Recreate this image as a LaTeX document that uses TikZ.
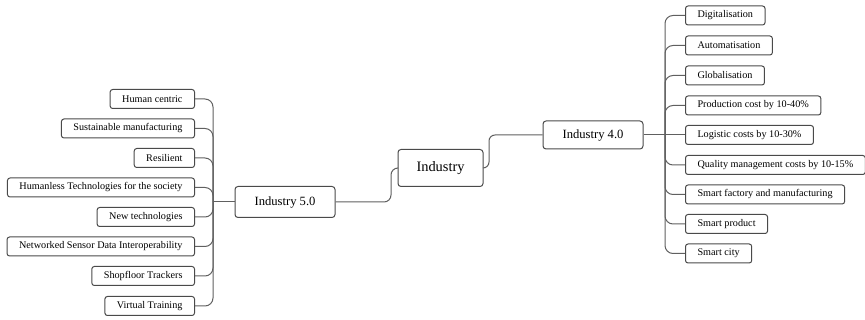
\documentclass[tikz,border=0pt]{standalone}
\usepackage{fontspec}
\setmainfont{Liberation Serif}
\definecolor{boxline}{HTML}{4A4A4A}
\definecolor{wire}{HTML}{606060}
\begin{document}
\begin{tikzpicture}[x=1pt,y=-1pt,
  leaf/.style={draw=boxline, line width=1pt, rounded corners=2.5pt,
    inner xsep=12pt, inner ysep=0pt, minimum height=19pt,
    font=\fontsize{10.2}{11}\selectfont},
  hub/.style={draw=boxline, line width=1pt, rounded corners=3pt,
    inner sep=0pt, font=\fontsize{12.6}{13}\selectfont},
  link/.style={draw=wire, line width=1pt, rounded corners=8pt}]
\useasboundingbox (0,0) rectangle (865,320);

% central hubs
\node[hub, minimum width=85pt, minimum height=37pt, font=\fontsize{14.4}{15}\selectfont] (ind) at (440.5,168) {Industry};
\node[hub, minimum width=100pt, minimum height=31pt] (i5) at (285,202) {Industry 5.0};
\node[hub, minimum width=100pt, minimum height=28pt] (i4) at (593,135) {Industry 4.0};

% Industry 5.0 leaves
\node[leaf, anchor=east] (l1) at (195,99)  {Human centric};
\node[leaf, anchor=east] (l2) at (195,128.5) {Sustainable manufacturing};
\node[leaf, anchor=east] (l3) at (195,158) {Resilient};
\node[leaf, anchor=east] (l4) at (195,187.5) {Humanless Technologies for the society};
\node[leaf, anchor=east] (l5) at (195,217) {New technologies};
\node[leaf, anchor=east] (l6) at (195,246.5) {Networked Sensor Data Interoperability};
\node[leaf, anchor=east] (l7) at (195,276) {Shopfloor Trackers};
\node[leaf, anchor=east] (l8) at (195,306) {Virtual Training};

% Industry 4.0 leaves
\node[leaf, anchor=west] (r1) at (685,15.5)  {Digitalisation};
\node[leaf, anchor=west] (r2) at (685,45.5)  {Automatisation};
\node[leaf, anchor=west] (r3) at (685,75.5)  {Globalisation};
\node[leaf, anchor=west] (r4) at (685,105.5) {Production cost by 10-40\%};
\node[leaf, anchor=west] (r5) at (685,135)   {Logistic costs by 10-30\%};
\node[leaf, anchor=west] (r6) at (685,165)   {Quality management costs by 10-15\%};
\node[leaf, anchor=west] (r7) at (685,194.5) {Smart factory and manufacturing};
\node[leaf, anchor=west] (r8) at (685,224)   {Smart product};
\node[leaf, anchor=west] (r9) at (685,253.5) {Smart city};

% trunk positions
\coordinate (tl) at (213,0);
\coordinate (tr) at (665,0);
\coordinate (j1) at (391,168);
\coordinate (j2) at (489,135);

% hub to hub
\draw[link, rounded corners=7pt] (i5.east) -| (j1) -- (ind.west);
\draw[link, rounded corners=6pt] (ind.east) -| (j2) -- (i4.west);

% Industry 5.0 branches
\draw[link] (i5.west) -- (i5.west -| tl);
\foreach \n in {l1,l2,l3,l4,l5,l6,l7,l8}
  \draw[link] (i5.west -| tl) |- (\n.east);

% Industry 4.0 branches
\draw[link] (i4.east) -- (r5.west);
\foreach \n in {r1,r2,r3,r4,r6,r7,r8,r9}
  \draw[link] (i4.east -| tr) |- (\n.west);
\end{tikzpicture}
\end{document}
